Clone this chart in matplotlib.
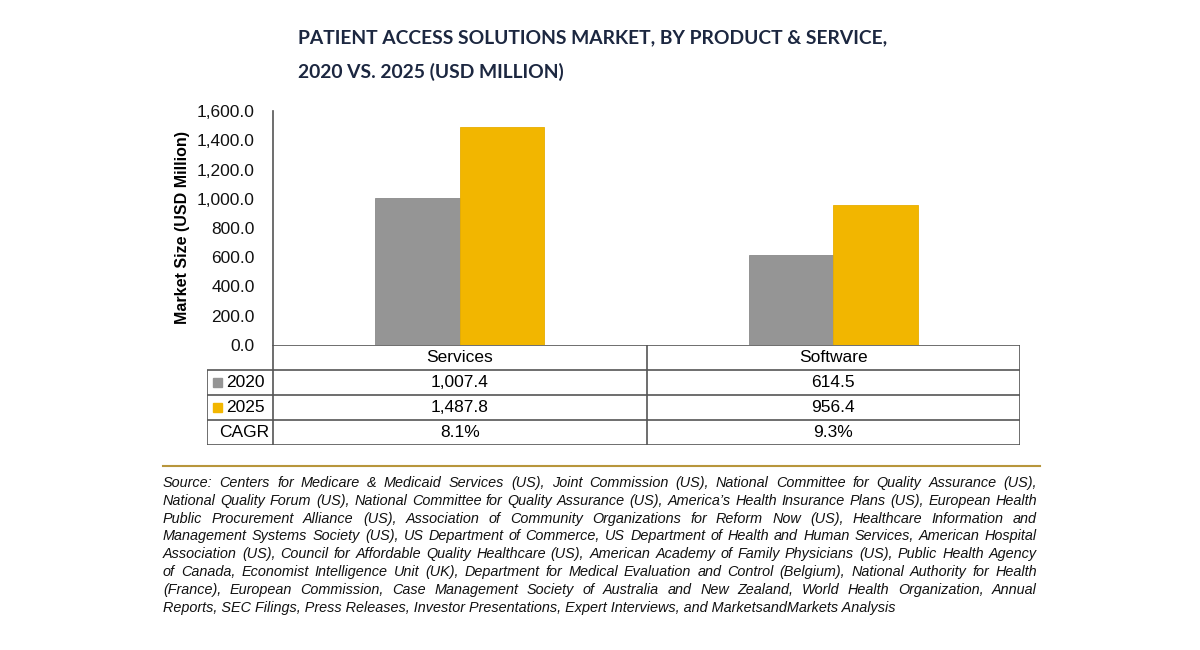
import numpy as np
import matplotlib
matplotlib.use("Agg")
import matplotlib.pyplot as plt
from matplotlib.patches import Rectangle

# data
categories = ["Services", "Software"]
years = ["2020", "2025"]
values_2020 = [1007.4, 614.5]
values_2025 = [1487.8, 956.4]
cagr = ["8.1%", "9.3%"]
yticks = [0, 200, 400, 600, 800, 1000, 1200, 1400, 1600]

source_lines = [
    "Source: Centers for Medicare & Medicaid Services (US), Joint Commission (US), National Committee for Quality Assurance (US),",
    "National Quality Forum (US), National Committee for Quality Assurance (US), America\u2019s Health Insurance Plans (US), European Health",
    "Public Procurement Alliance (US), Association of Community Organizations for Reform Now (US), Healthcare Information and",
    "Management Systems Society (US), US Department of Commerce, US Department of Health and Human Services, American Hospital",
    "Association (US), Council for Affordable Quality Healthcare (US), American Academy of Family Physicians (US), Public Health Agency",
    "of Canada, Economist Intelligence Unit (UK), Department for Medical Evaluation and Control (Belgium), National Authority for Health",
    "(France), European Commission, Case Management Society of Australia and New Zealand, World Health Organization, Annual",
    "Reports, SEC Filings, Press Releases, Investor Presentations, Expert Interviews, and MarketsandMarkets Analysis",
]

GRAY = "#959595"
YELLOW = "#f2b600"
NAVY = "#1c2740"
LINE = "#555555"

plt.rcParams['font.family'] = ['Liberation Sans', 'DejaVu Sans']

W, H = 1200, 650
fig = plt.figure(figsize=(12, 6.5), dpi=100)

def fx(px):
    return px / W

def fy(py):
    return 1 - py / H

# main bar axes
ax_l, ax_r, ax_t, ax_b = 273, 1020, 111, 345
ax = fig.add_axes([fx(ax_l), fy(ax_b), fx(ax_r - ax_l), (ax_b - ax_t) / H])
x = np.arange(len(categories))
bw = 0.226
ax.bar(x - bw / 2, values_2020, bw, color=GRAY, edgecolor="#8a8a8a", linewidth=0.6)
ax.bar(x + bw / 2, values_2025, bw, color=YELLOW, edgecolor="#e8ad00", linewidth=0.6)
ax.set_xlim(-0.5, 1.5)
ax.set_ylim(0, 1600)
ax.set_yticks(yticks)
ax.set_yticklabels([f"{v:,.1f}" for v in yticks], fontsize=12.5, color="#111111")
ax.tick_params(axis="y", length=0, pad=13)
ax.set_xticks([])
for s in ["top", "right", "bottom"]:
    ax.spines[s].set_visible(False)
ax.spines["left"].set_color(LINE)
ax.spines["left"].set_linewidth(1.2)
ax.set_ylabel("Market Size (USD Million)", fontsize=11.5, fontweight="bold", labelpad=5)

# table axes below
units_per_px = 2.0 / (ax_r - ax_l)
t_l, t_b = 207, 445
tax = fig.add_axes([fx(t_l), fy(t_b), fx(ax_r - t_l), (t_b - ax_b) / H])
x0 = -0.5 - (ax_l - t_l) * units_per_px
tax.set_xlim(x0, 1.5)
tax.set_ylim(4, 0)
tax.axis("off")
lk = dict(color=LINE, lw=1.2, solid_capstyle="butt")
tax.plot([-0.5, 1.5], [0, 0], **lk)
for r in [1, 2, 3, 4]:
    tax.plot([x0, 1.5], [r, r], **lk)
tax.plot([x0, x0], [1, 4], **lk)
for c in [-0.5, 0.5, 1.5]:
    tax.plot([c, c], [0, 4], **lk)

tfs = 12.5
for i, cat in enumerate(categories):
    tax.text(i, 0.5, cat, ha="center", va="center", fontsize=tfs)
    tax.text(i, 1.5, f"{values_2020[i]:,.1f}", ha="center", va="center", fontsize=tfs)
    tax.text(i, 2.5, f"{values_2025[i]:,.1f}", ha="center", va="center", fontsize=tfs)
    tax.text(i, 3.5, cagr[i], ha="center", va="center", fontsize=tfs)

sq = 9 * units_per_px
for r, (yr, col) in enumerate(zip(years, [GRAY, YELLOW])):
    tax.add_patch(Rectangle((x0 + 6 * units_per_px, 1.5 + r - 0.18), sq, 0.36, color=col))
    tax.text(x0 + 19 * units_per_px, 1.5 + r, yr, ha="left", va="center", fontsize=tfs)
tax.text(-0.5 - 4 * units_per_px, 3.5, "CAGR", ha="right", va="center", fontsize=tfs)

# title, sized to the reference width
title_kw = dict(fontsize=16, fontweight="bold", color=NAVY, family=['Lato', 'DejaVu Sans'],
                ha="left", va="center")
t1 = fig.text(fx(298), fy(38), "PATIENT ACCESS SOLUTIONS MARKET, BY PRODUCT & SERVICE,", **title_kw)
t2 = fig.text(fx(298), fy(72), "2020 VS. 2025 (USD MILLION)", **title_kw)
fig.canvas.draw()
renderer = fig.canvas.get_renderer()
w1 = t1.get_window_extent(renderer).width
scale = 590.0 / w1
for t in (t1, t2):
    t.set_fontsize(16 * scale)

# separator line
fig.add_artist(plt.Line2D([fx(163), fx(1040)], [fy(466), fy(466)], color="#b8963c", lw=1.5))

# justified source text
src_l, src_r = 163, 1037
src_kw = dict(fontsize=10.4, style="italic", color="#111111", va="center", ha="left")
for li, line in enumerate(source_lines):
    yy = fy(483 + li * 17.8)
    words = line.split(" ")
    if li == len(source_lines) - 1:
        fig.text(fx(src_l), yy, line, **src_kw)
        continue
    arts = [fig.text(0, yy, w, **src_kw) for w in words]
    widths = [a.get_window_extent(renderer).width for a in arts]
    gap = (src_r - src_l - sum(widths)) / (len(words) - 1)
    pos = src_l
    for a, w in zip(arts, widths):
        a.set_x(fx(pos))
        pos += w + gap

fig.savefig("out.png", dpi=100, facecolor="white")
